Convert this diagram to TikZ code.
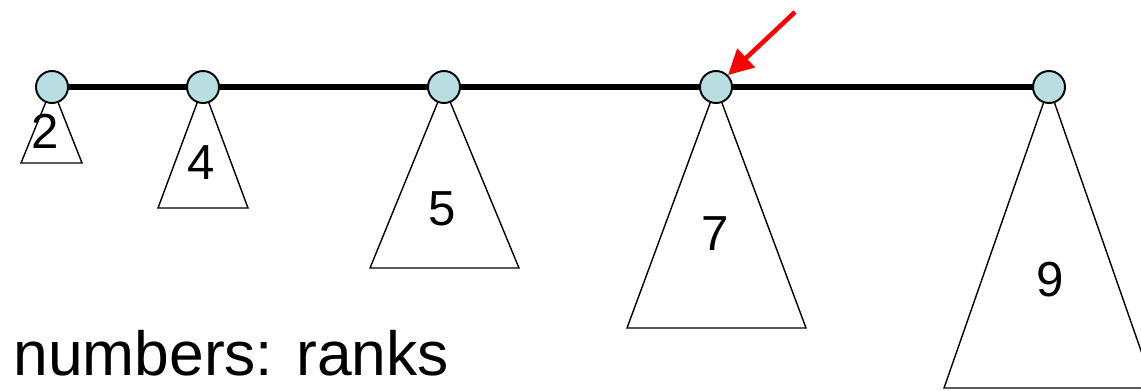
\documentclass[tikz,border=0pt]{standalone}
\usepackage{fontspec}
\setmainfont{Liberation Sans}
\usetikzlibrary{arrows.meta,positioning}
\definecolor{rootfill}{RGB}{184,222,226}

\begin{document}
\begin{tikzpicture}[
  x=0.02cm,y=-0.02cm,
  root/.style={circle,draw,line width=1.1pt,fill=rootfill,
               minimum size=0.64cm,inner sep=0pt},
  tri/.style={draw,line width=0.8pt},
  rank/.style={font=\fontsize{28}{30}\selectfont,inner sep=0pt},
  spine/.style={line width=3.4pt},
  arr/.style={-{Triangle[length=5mm,width=5mm]},red,line width=2.6pt}]
  \useasboundingbox (0,0) rectangle (1141,390);
  % roots of the heap-ordered trees
  \coordinate (r2) at (52,87);
  \coordinate (r4) at (203,87);
  \coordinate (r5) at (444,87);
  \coordinate (r7) at (716,87);
  \coordinate (r9) at (1049,87);
  \draw[spine] (r2) -- (r9);
  % subtrees
  \draw[tri] (r2) -- (21,163) -- (82,163) -- cycle;
  \draw[tri] (r4) -- (158,208) -- (248,208) -- cycle;
  \draw[tri] (r5) -- (370,268) -- (519,268) -- cycle;
  \draw[tri] (r7) -- (627,328) -- (806,328) -- cycle;
  \draw[tri] (r9) -- (944,388) -- (1154,388) -- cycle;
  \node[root] (n2) at (r2) {};
  \node[root] (n4) at (r4) {};
  \node[root] (n5) at (r5) {};
  \node[root] (n7) at (r7) {};
  \node[root] (n9) at (r9) {};
  \node[rank] (k2) at (45,131) {2};
  \node[rank] (k4) at (201,163) {4};
  \node[rank] (k5) at (442,209) {5};
  \node[rank] (k7) at (715,234) {7};
  \node[rank] (k9) at (1050,280) {9};
  \node[anchor=base west,inner sep=0pt,font=\fontsize{35.5}{38}\selectfont]
    (note) at (13,375) {numbers: ranks};
  % pointer to the current root
  \coordinate (tail) at (795,12);
  \draw[arr] (tail) -- (n7.north east);
\end{tikzpicture}
\end{document}
